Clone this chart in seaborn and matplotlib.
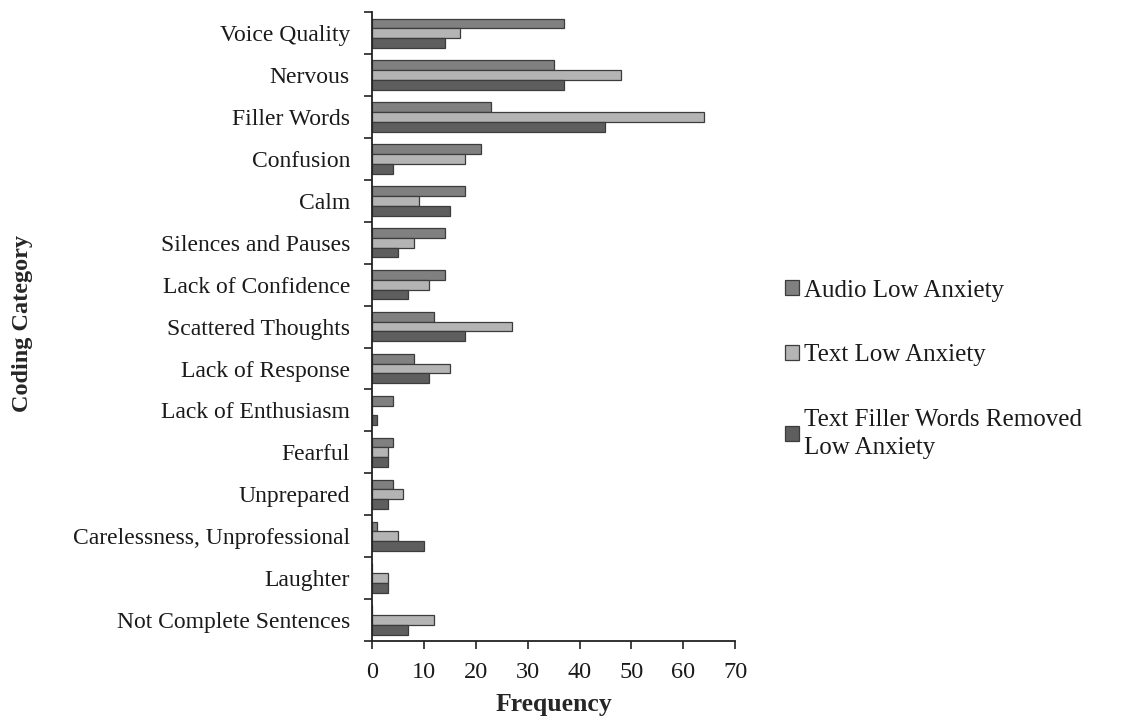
import numpy as np
import pandas as pd
import matplotlib.pyplot as plt
import seaborn as sns

categories = ["Voice Quality", "Nervous", "Filler Words", "Confusion", "Calm",
              "Silences and Pauses", "Lack of Confidence", "Scattered Thoughts",
              "Lack of Response", "Lack of Enthusiasm", "Fearful", "Unprepared",
              "Carelessness, Unprofessional", "Laughter", "Not Complete Sentences"]
audio_low = [37, 35, 23, 21, 18, 14, 14, 12, 8, 4, 4, 4, 1, 0, 0]
text_low = [17, 48, 64, 18, 9, 8, 11, 27, 15, 0, 3, 6, 5, 3, 12]
text_removed_low = [14, 37, 45, 4, 15, 5, 7, 18, 11, 1, 3, 3, 10, 3, 7]
series = ["Audio Low Anxiety", "Text Low Anxiety",
          "Text Filler Words Removed\nLow Anxiety"]
colors = ["#808080", "#b4b4b4", "#5e5e5e"]

df = pd.DataFrame({
    "category": categories * 3,
    "value": audio_low + text_low + text_removed_low,
    "series": [series[0]] * 15 + [series[1]] * 15 + [series[2]] * 15,
})

sns.set_style("white")
plt.rcParams['font.family'] = ['Liberation Serif', 'DejaVu Serif']

fig = plt.figure(figsize=(11.31, 7.19), dpi=100)
ax = fig.add_axes([0.329, 0.1085, 0.321, 0.8745])

sns.barplot(data=df, y="category", x="value", hue="series", orient="h",
            palette=colors, width=0.7, edgecolor="#3c3c3c", linewidth=0.9,
            ax=ax, legend=True)

ax.set_xlim(0, 70)
ax.set_ylim(len(categories) - 0.5, -0.5)
ax.set_xticks(np.arange(0, 71, 10))
ax.set_yticks(np.arange(len(categories)))
ax.set_yticklabels(categories)
ax.set_yticks(np.arange(-0.5, len(categories), 1), minor=True)
ax.tick_params(axis="y", which="major", length=0, pad=16, labelsize=17, labelcolor="#1a1a1a")
ax.tick_params(axis="y", which="minor", length=6, width=1.2, color="#222222", direction="out", left=True)
ax.tick_params(axis="x", length=6, width=1.2, color="#222222", direction="out", bottom=True,
               labelsize=17.5, pad=9, labelcolor="#1a1a1a")

for s in ["top", "right"]:
    ax.spines[s].set_visible(False)
for s in ["left", "bottom"]:
    ax.spines[s].set_color("#222222")
    ax.spines[s].set_linewidth(1.3)

ax.set_xlabel("Frequency", fontsize=18.5, fontweight="bold", labelpad=7)
ax.set_ylabel("")
fig.text(0.02, 0.55, "Coding Category", rotation=90, fontsize=17.5,
         fontweight="bold", ha="center", va="center")

handles, labels = ax.get_legend_handles_labels()
ax.get_legend().remove()
leg = fig.legend(handles, labels, loc="upper left", bbox_to_anchor=(0.694, 0.611),
                 frameon=False, fontsize=18, labelspacing=1.7, handlelength=0.55,
                 handleheight=0.55, handletextpad=0.2, borderpad=0, borderaxespad=0)
for t in leg.get_texts():
    t.set_linespacing(1.35)
    t.set_color("#1a1a1a")

fig.savefig("out.png", dpi=100)
